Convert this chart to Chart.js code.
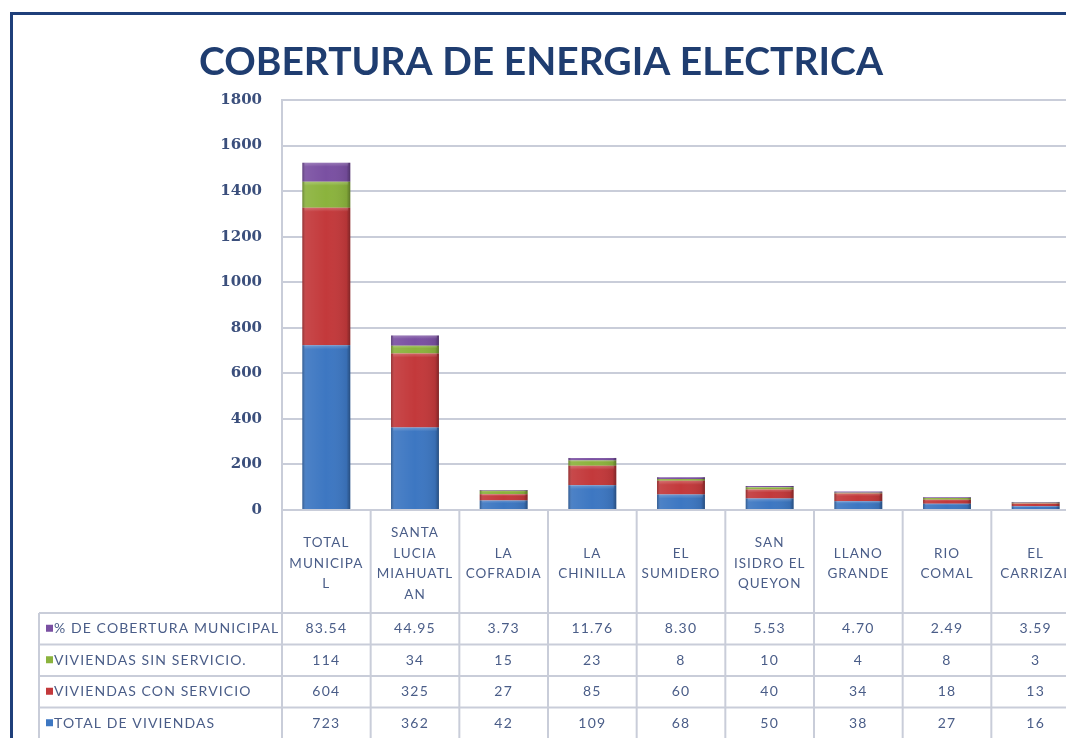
<!DOCTYPE html>
<html>
<head>
<meta charset="utf-8">
<script src="https://cdn.jsdelivr.net/npm/chart.js@4.4.1/dist/chart.umd.min.js"></script>
<style>
  html, body { margin: 0; padding: 0; background: #fff; overflow: hidden; width: 1066px; height: 738px; }
  #frame { position: absolute; left: 10px; top: 12px; width: 1200px; height: 900px; border: 3px solid #1f3f7a; box-sizing: border-box; }
  #c { position: absolute; left: 0; top: 0; }
</style>
</head>
<body>
<div id="frame"></div>
<canvas id="c" width="1090" height="738"></canvas>
<script>
const TITLE = "COBERTURA DE ENERGIA ELECTRICA";
const categories = [
  ["TOTAL", "MUNICIPA", "L"],
  ["SANTA", "LUCIA", "MIAHUATL", "AN"],
  ["LA", "COFRADIA"],
  ["LA", "CHINILLA"],
  ["EL", "SUMIDERO"],
  ["SAN", "ISIDRO EL", "QUEYON"],
  ["LLANO", "GRANDE"],
  ["RIO", "COMAL"],
  ["EL", "CARRIZAL"]
];
const seriesNames = ["TOTAL DE VIVIENDAS", "VIVIENDAS CON SERVICIO", "VIVIENDAS SIN SERVICIO.", "% DE COBERTURA MUNICIPAL"];
const totalViviendas = [723, 362, 42, 109, 68, 50, 38, 27, 16];
const conServicio = [604, 325, 27, 85, 60, 40, 34, 18, 13];
const sinServicio = [114, 34, 15, 23, 8, 10, 4, 8, 3];
const coberturaPct = [83.54, 44.95, 3.73, 11.76, 8.30, 5.53, 4.70, 2.49, 3.59];
const seriesColors = ["#3d77c2", "#c3393b", "#8bb33d", "#7a50a2"];
const yTicks = [0, 200, 400, 600, 800, 1000, 1200, 1400, 1600, 1800];

const seriesValues = [totalViviendas, conServicio, sinServicio, coberturaPct];
const textColor = "#4a5d88";
const lineColor = "#c9cdd9";

const glossPlugin = {
  id: "gloss",
  afterDatasetsDraw(chart) {
    const ctx = chart.ctx;
    chart.data.datasets.forEach((ds, di) => {
      const meta = chart.getDatasetMeta(di);
      meta.data.forEach(bar => {
        const l = bar.x - bar.width / 2, r = bar.x + bar.width / 2;
        const top = Math.min(bar.y, bar.base), bot = Math.max(bar.y, bar.base);
        if (bot - top < 0.5) return;
        const g = ctx.createLinearGradient(l, 0, r, 0);
        g.addColorStop(0, "rgba(0,0,0,0.28)");
        g.addColorStop(0.08, "rgba(255,255,255,0.08)");
        g.addColorStop(0.5, "rgba(255,255,255,0.0)");
        g.addColorStop(0.92, "rgba(0,0,0,0.08)");
        g.addColorStop(1, "rgba(0,0,0,0.35)");
        ctx.save();
        ctx.fillStyle = g;
        ctx.fillRect(l, top, r - l, bot - top);
        const h = Math.min(4, (bot - top) / 3);
        const vg = ctx.createLinearGradient(0, top, 0, top + h);
        vg.addColorStop(0, "rgba(255,255,255,0.22)");
        vg.addColorStop(1, "rgba(255,255,255,0)");
        ctx.fillStyle = vg;
        ctx.fillRect(l + 2, top, r - l - 4, h);
        ctx.restore();
      });
    });
  }
};

const tablePlugin = {
  id: "table",
  afterDraw(chart) {
    const ctx = chart.ctx;
    const xs = chart.scales.x;
    const n = categories.length;
    const left = chart.chartArea.left, right = chart.chartArea.right;
    const colW = (right - left) / n;
    const top = chart.chartArea.bottom;
    const tableTop = 613;
    const rowH = 31.5;
    const bottom = 740;
    const legendLeft = 39;
    ctx.save();
    // title
    ctx.fillStyle = "#1f3d70";
    ctx.font = "bold 39px Lato, 'Open Sans', sans-serif";
    ctx.textAlign = "center";
    ctx.textBaseline = "middle";
    ctx.fillText(TITLE, 541, 62);

    // lines
    ctx.strokeStyle = lineColor;
    ctx.lineWidth = 2;
    for (let i = 0; i <= n; i++) {
      const x = left + i * colW;
      ctx.beginPath(); ctx.moveTo(x, top); ctx.lineTo(x, bottom); ctx.stroke();
    }
    ctx.beginPath(); ctx.moveTo(left, 100); ctx.lineTo(left, top); ctx.stroke();
    ctx.beginPath(); ctx.moveTo(legendLeft, tableTop); ctx.lineTo(legendLeft, bottom); ctx.stroke();
    for (let r = 0; r < 4; r++) {
      const y = tableTop + r * rowH;
      ctx.beginPath(); ctx.moveTo(legendLeft, y); ctx.lineTo(1090, y); ctx.stroke();
    }

    // header labels
    ctx.fillStyle = textColor;
    ctx.font = "13.5px Lato, sans-serif";
    ctx.letterSpacing = "1px";
    ctx.textAlign = "center";
    ctx.textBaseline = "middle";
    const headerMid = (top + tableTop) / 2 + 2;
    const lh = 20.5;
    categories.forEach((lines, i) => {
      const cx = xs.getPixelForValue(i);
      const y0 = headerMid - (lines.length - 1) * lh / 2;
      lines.forEach((t, k) => ctx.fillText(t, cx, y0 + k * lh));
    });

    // rows (top to bottom: last series first)
    for (let r = 0; r < 4; r++) {
      const si = 3 - r;
      const yc = tableTop + r * rowH + rowH / 2;
      ctx.fillStyle = seriesColors[si];
      ctx.fillRect(46, yc - 4, 7, 7);
      ctx.fillStyle = textColor;
      ctx.textAlign = "left";
      ctx.font = "14px Lato, sans-serif";
      ctx.letterSpacing = "1.1px";
      ctx.fillText(seriesNames[si], 54, yc);
      ctx.textAlign = "center";
      ctx.letterSpacing = "1.2px";
      seriesValues[si].forEach((v, i) => {
        const s = si === 3 ? v.toFixed(2) : String(v);
        ctx.fillText(s, xs.getPixelForValue(i), yc);
      });
    }
    ctx.restore();
  }
};

new Chart(document.getElementById("c"), {
  type: "bar",
  data: {
    labels: categories.map(c => c.join(" ")),
    datasets: seriesNames.map((name, i) => ({
      label: name,
      data: seriesValues[i],
      backgroundColor: seriesColors[i],
      borderWidth: 0,
      categoryPercentage: 1.0,
      barPercentage: 0.54
    }))
  },
  options: {
    responsive: false,
    animation: false,
    layout: { padding: { top: 100, bottom: 228, left: 0, right: 10 } },
    plugins: { legend: { display: false }, tooltip: { enabled: false }, title: { display: false } },
    scales: {
      x: { stacked: true, display: false },
      y: {
        stacked: true,
        min: 0, max: 1800,
        afterFit(scale) { scale.width = 282; },
        afterBuildTicks(scale) { scale.ticks = yTicks.map(v => ({ value: v })); },
        ticks: {
          color: "#3b4f7c",
          padding: 20,
          callback: v => String(v),
          font: { family: "'DejaVu Serif', serif", weight: "bold", size: 15 }
        },
        grid: { color: lineColor, lineWidth: 2, drawTicks: false },
        border: { display: true, color: lineColor, width: 2 }
      }
    }
  },
  plugins: [glossPlugin, tablePlugin]
});
</script>
</body>
</html>
